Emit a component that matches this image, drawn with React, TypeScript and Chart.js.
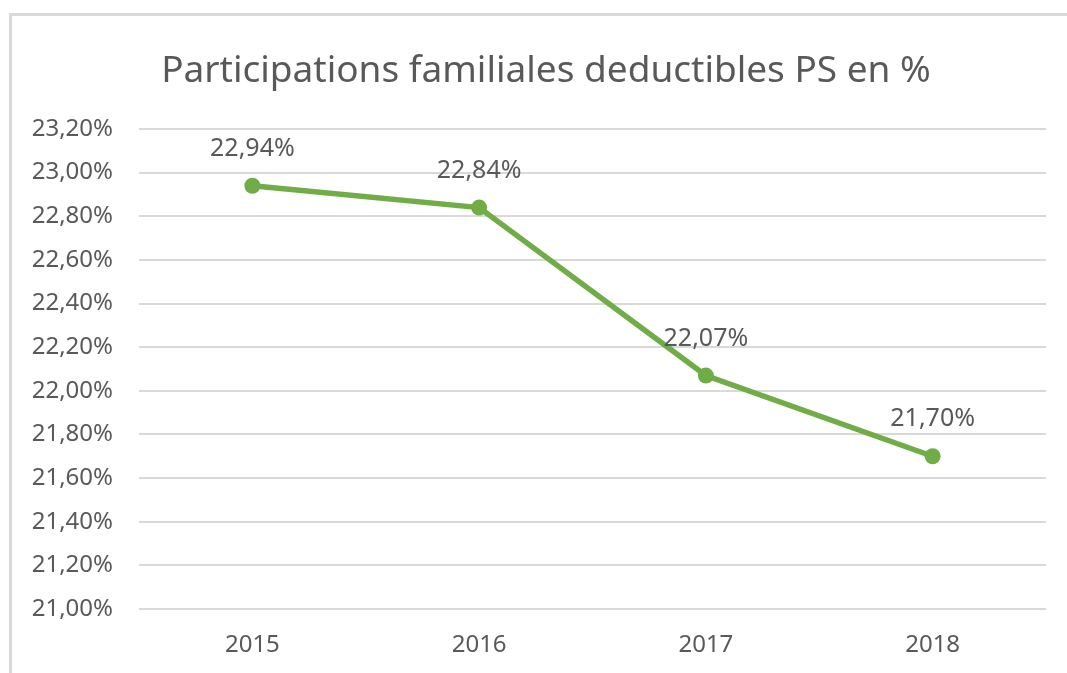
import React, { useEffect, useRef } from "react";
import { Chart, registerables } from "chart.js";

Chart.register(...registerables);

const TITLE = "Participations familiales deductibles PS en %";
const YEARS = ["2015", "2016", "2017", "2018"];
const VALUES = [22.94, 22.84, 22.07, 21.7];
const Y_MIN = 21.0;
const Y_MAX = 23.2;
const Y_STEP = 0.2;

const TEXT = "#595959";
const GREEN = "#70AD47";
const GRID = "#d9d9d9";
const FONT = "'Noto Sans', sans-serif";

const fmt = (v: number) => v.toFixed(2).replace(".", ",") + "%";

const dataLabels = {
  id: "dataLabels",
  afterLayout(chart: any) {
    // shift the title block so it is centred like the original (Excel) chart
    const t = chart.titleBlock;
    if (t) t.left = 46;
  },
  afterDatasetsDraw(chart: any) {
    const ctx = chart.ctx;
    const meta = chart.getDatasetMeta(0);
    ctx.save();
    ctx.font = `25px ${FONT}`;
    ctx.fillStyle = TEXT;
    ctx.textAlign = "center";
    ctx.textBaseline = "middle";
    meta.data.forEach((pt: any, i: number) => {
      ctx.fillText(fmt(VALUES[i]), pt.x, pt.y - 37);
    });
    ctx.restore();
  },
};

export default function App() {
  const ref = useRef<HTMLCanvasElement>(null);
  useEffect(() => {
    if (!ref.current) return;
    const chart = new Chart(ref.current, {
      type: "line",
      data: {
        labels: YEARS,
        datasets: [
          {
            data: VALUES,
            borderColor: GREEN,
            backgroundColor: GREEN,
            borderWidth: 5.5,
            pointRadius: 8,
            pointBackgroundColor: GREEN,
            pointBorderColor: GREEN,
            pointBorderWidth: 0,
            tension: 0,
            fill: false,
          },
        ],
      },
      options: {
        responsive: false,
        animation: false,
        layout: { padding: { left: 0, right: 21, top: 0, bottom: 0 } },
        plugins: {
          legend: { display: false },
          tooltip: { enabled: false },
          title: {
            display: true,
            text: TITLE,
            color: TEXT,
            font: { family: FONT, size: 37, weight: "normal", lineHeight: 1.2 },
            padding: { top: 49, bottom: 35.6 },
          },
        },
        scales: {
          x: {
            offset: true,
            grid: { display: false, drawTicks: false },
            border: { display: false },
            ticks: { color: TEXT, font: { family: FONT, size: 24 }, padding: 22 },
            afterFit: (s: any) => {
              s.height = 64;
            },
          },
          y: {
            min: Y_MIN,
            max: Y_MAX,
            grid: { color: GRID, lineWidth: 2, drawTicks: false },
            border: { display: false },
            ticks: {
              stepSize: Y_STEP,
              color: TEXT,
              font: { family: FONT, size: 24 },
              padding: 26,
              callback: (v: any) => fmt(Number(v)),
            },
            afterFit: (s: any) => {
              s.width = 139;
            },
          },
        },
      },
      plugins: [dataLabels],
    });
    return () => chart.destroy();
  }, []);

  return (
    <div
      style={{
        position: "fixed",
        left: 0,
        top: 0,
        width: 1067,
        height: 673,
        overflow: "hidden",
        background: "#fff",
      }}
    >
      <div
        style={{
          position: "absolute",
          left: 9,
          top: 13,
          width: 1100,
          height: 700,
          borderTop: `3px solid ${GRID}`,
          borderLeft: `3px solid ${GRID}`,
          boxSizing: "border-box",
        }}
      />
      <canvas
        ref={ref}
        width={1067}
        height={673}
        style={{ position: "absolute", left: 0, top: 0, width: 1067, height: 673 }}
      />
    </div>
  );
}
